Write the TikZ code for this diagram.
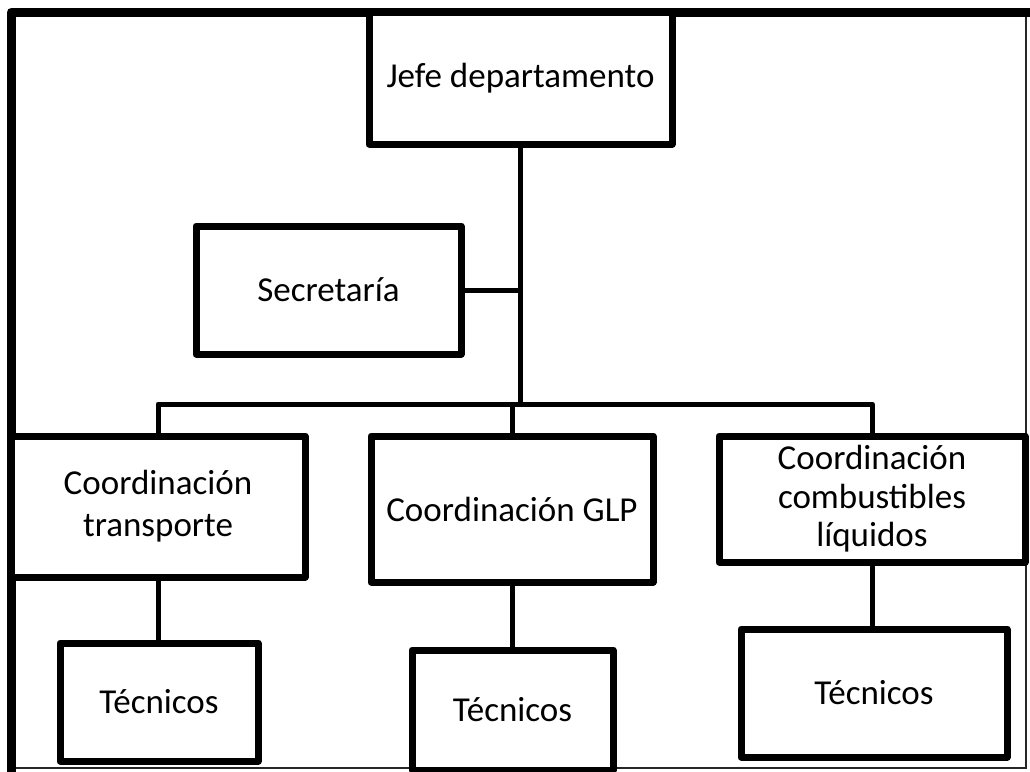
\documentclass[tikz,border=0pt]{standalone}
\usepackage{fontspec}
\setmainfont{Carlito}
\begin{document}
\begin{tikzpicture}[x=0.75pt,y=-0.75pt,
  box/.style={draw, line width=5.25pt, line join=round, fill=white, align=center,
    inner sep=0pt, font=\fontsize{26.25}{31.5}\selectfont},
  conn/.style={line width=3.75pt}]
\useasboundingbox (0,0) rectangle (1030,771);
\clip (0,0) rectangle (1030,771);

% outer frame
\draw[line width=1.5pt, black!85] (11,768) -- (1026,768) -- (1026,12);
\draw[line width=6.75pt, line join=round] (11,775) -- (11,12) -- (1032,12);

% boxes
\node[box, minimum width=227.25pt, minimum height=99pt] (jefe) at (520.5,78) {Jefe departamento};
\node[box, minimum width=198.75pt, minimum height=96pt] (sec) at (328.5,290) {Secretaría};
\node[box, minimum width=220.5pt, minimum height=105.75pt] (ct) at (158,506.5) {Coordinación\\transporte};
\node[box, minimum width=211.5pt, minimum height=109.5pt] (glp) at (512,509) {Coordinación GLP};
\node[box, minimum width=229.5pt, minimum height=94.5pt,
  font=\fontsize{26.25}{28.9}\selectfont] (cc) at (872,499) {Coordinación\\combustibles\\líquidos};
\node[box, minimum width=148.5pt, minimum height=88.5pt] (tl) at (159,702) {Técnicos};
\node[box, minimum width=150.75pt, minimum height=90pt] (tm) at (512.5,710) {Técnicos};
\node[box, minimum width=199.5pt, minimum height=96pt] (tr) at (874,693) {Técnicos};

% connectors
\coordinate (bar) at (520.5,404);
\draw[conn] (jefe.south) -- (bar);
\draw[conn] (sec.east) -- (sec.east -| jefe.south);
\draw[conn, line join=round] (ct.north) -- (ct.north |- bar) -- (cc.north |- bar) -- (cc.north);
\draw[conn] (glp.north) -- (glp.north |- bar);
\draw[conn] (ct.south) -- (ct.south |- tl.north);
\draw[conn] (glp.south) -- (glp.south |- tm.north);
\draw[conn] (cc.south) -- (cc.south |- tr.north);
\end{tikzpicture}
\end{document}
